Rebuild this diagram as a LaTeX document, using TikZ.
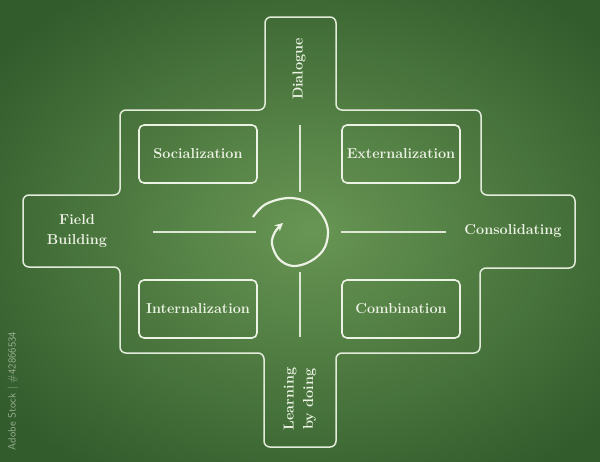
\documentclass[tikz,border=0pt]{standalone}
\usetikzlibrary{arrows.meta}
\definecolor{boardlight}{RGB}{104,150,84}
\definecolor{boarddark}{RGB}{50,92,44}
\definecolor{chalk}{RGB}{236,242,228}
\tikzset{
  chalkline/.style={draw=chalk, line width=1.5pt, rounded corners=6pt, opacity=0.95},
  stagebox/.style={draw=chalk, line width=1.6pt, rounded corners=5pt, minimum width=118pt, minimum height=58pt, inner sep=0pt},
  lbl/.style={text=chalk, font=\fontsize{14.4}{19.5}\selectfont\bfseries, align=center, inner sep=0pt},
  dashline/.style={draw=chalk, line width=1.3pt, opacity=0.9}
}
\begin{document}
\begin{tikzpicture}[x=1pt, y=-1pt]
\useasboundingbox (0,0) rectangle (600,461);
\shade[inner color=boardlight, outer color=boarddark] (-80,-60) rectangle (700,520);
% outline
\draw[chalkline] (265,110) -- (265,17) -- (336,17) -- (336,110) -- (481,110) -- (481,195) -- (575,195) -- (575,268) -- (480,268) -- (480,353) -- (336,353) -- (336,447) -- (264,447) -- (264,353) -- (120,353) -- (120,267) -- (23,267) -- (23,195) -- (120,195) -- (120,110) -- cycle;
% stage boxes
\node[stagebox, lbl] (soc) at (198,154) {Socialization};
\node[stagebox, lbl] (ext) at (401,154) {Externalization};
\node[stagebox, lbl] (int) at (198,309) {Internalization};
\node[stagebox, lbl] (com) at (401,309) {Combination};
% labels
\node[lbl, rotate=90] (dia) at (299,69) {Dialogue};
\node[lbl] (fb) at (77,231) {Field\\Building};
\node[lbl] (con) at (513,231) {Consolidating};
\node[lbl, rotate=90] (lbd) at (300,399) {Learning\\by doing};
% dashes
\coordinate (vt1) at (300,125); \coordinate (vt2) at (300,192);
\coordinate (vb1) at (300,272); \coordinate (vb2) at (300,337);
\coordinate (hl1) at (153,232); \coordinate (hl2) at (256,232);
\coordinate (hr1) at (341,232); \coordinate (hr2) at (446,232);
\draw[dashline] (vt1) -- (vt2);
\draw[dashline] (vb1) -- (vb2);
\draw[dashline] (hl1) -- (hl2);
\draw[dashline] (hr1) -- (hr2);
% spiral arrow
\draw[draw=chalk, line width=2.2pt, -{Stealth[length=8pt,width=8pt]}]
  plot[smooth, tension=0.6] coordinates {(253,217) (266,204) (290,198) (313,205) (327,225) (325,247) (311,261) (293,266) (279,259) (272,244) (275,232) (283,223)};
% watermark text
\node[rotate=90, text=chalk, opacity=0.55, font=\sffamily\fontsize{10.6}{12}\selectfont] (wm) at (13,391) {Adobe Stock | \#42866534};
\end{tikzpicture}
\end{document}
